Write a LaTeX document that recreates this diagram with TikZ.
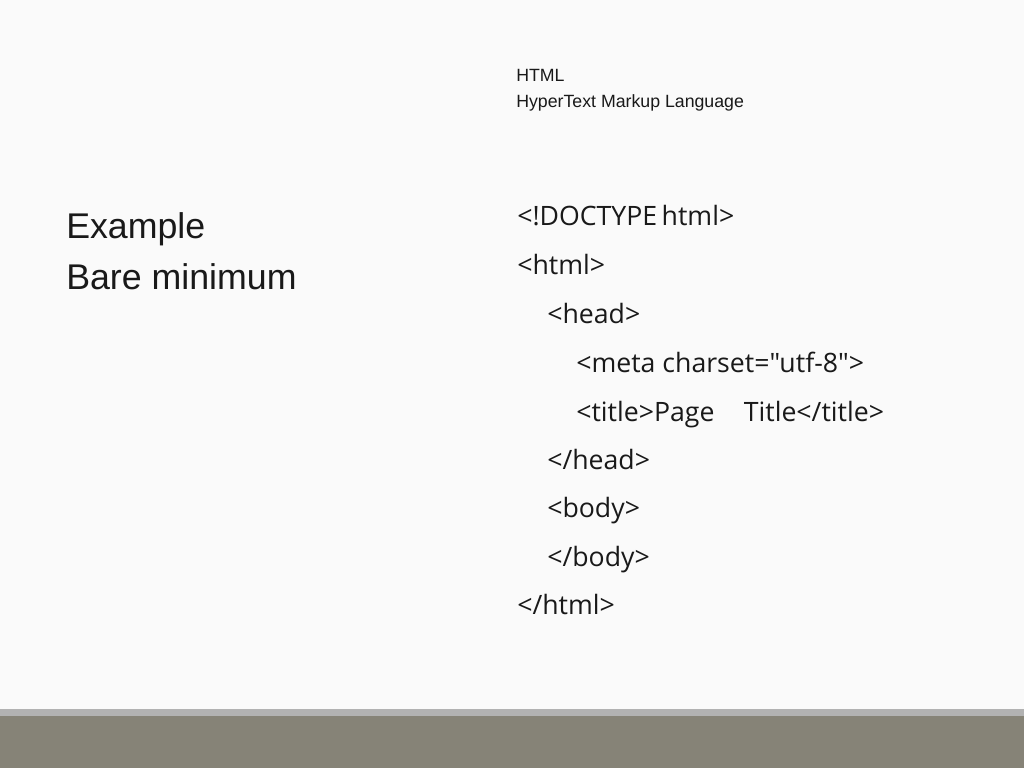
\documentclass[tikz,border=0pt]{standalone}
\usepackage{fontspec}
\setmainfont{Liberation Sans}
\newfontfamily\codefont{Open Sans}
\begin{document}
\begin{tikzpicture}[x=0.75pt,y=-0.75pt,
  txt/.style={anchor=base west,inner sep=0pt,text=black!90},
  small/.style={txt,font=\fontsize{13.3}{15}\selectfont},
  big/.style={txt,font=\fontsize{26.8}{30}\selectfont},
  code/.style={txt,font=\codefont\fontsize{20}{23}\selectfont}]
\fill[black!2] (0,0) rectangle (1024,768);
\useasboundingbox (0,0) rectangle (1024,768);
\fill[black!30] (0,709) rectangle (1024,716);
\fill[black!50!olive!20!gray] (0,716) rectangle (1024,768);
\node[small] (t1) at (516,81) {HTML};
\node[small] (t2) at (516,107) {HyperText Markup Language};
\node[big] (l1) at (66,238) {Example};
\node[big] (l2) at (66,289) {Bare minimum};
\node[code] (c1) at (517,225) {<!DOCTYPE\,html>};
\node[code] (c2) at (517,274) {<html>};
\node[code] (c3) at (547,323) {<head>};
\node[code] (c4) at (576,372) {<meta charset="utf-8">};
\node[code] (c5) at (576,421) {<title>Page\hspace{22pt}Title</title>};
\node[code] (c6) at (547,469) {</head>};
\node[code] (c7) at (547,517) {<body>};
\node[code] (c8) at (547,566) {</body>};
\node[code] (c9) at (517,614) {</html>};
\end{tikzpicture}
\end{document}
